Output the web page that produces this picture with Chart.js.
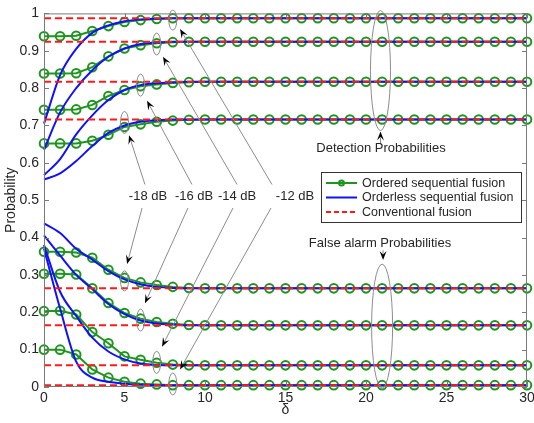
<!DOCTYPE html>
<html>
<head>
<meta charset="utf-8">
<script src="https://cdn.jsdelivr.net/npm/chart.js@4.4.0/dist/chart.umd.min.js"></script>
<style>
  html, body { margin: 0; padding: 0; background: #fff; }
  canvas { display: block; }
</style>
</head>
<body>
<canvas id="chart" width="534" height="423"></canvas>
<script>
// ---- data ----
const delta = [0,1,2,3,4,5,6,7,8,9,10,11,12,13,14,15,16,17,18,19,20,21,22,23,24,25,26,27,28,29,30];

// detection probabilities, ordered sequential fusion (green, circles)
const orderedD12 = [0.939,0.939,0.940,0.953,0.966,0.977,0.982,0.985,0.987,0.987,0.987,0.987,0.987,0.987,0.987,0.987,0.987,0.987,0.987,0.987,0.987,0.987,0.987,0.987,0.987,0.987,0.987,0.987,0.987,0.987,0.987];
const orderedD14 = [0.839,0.839,0.840,0.856,0.885,0.906,0.915,0.920,0.923,0.924,0.924,0.924,0.924,0.924,0.924,0.924,0.924,0.924,0.924,0.924,0.924,0.924,0.924,0.924,0.924,0.924,0.924,0.924,0.924,0.924,0.924];
const orderedD16 = [0.742,0.742,0.743,0.755,0.779,0.795,0.805,0.810,0.814,0.816,0.817,0.817,0.817,0.817,0.817,0.817,0.817,0.817,0.817,0.817,0.817,0.817,0.817,0.817,0.817,0.817,0.817,0.817,0.817,0.817,0.817];
const orderedD18 = [0.652,0.652,0.652,0.659,0.675,0.696,0.703,0.710,0.713,0.715,0.716,0.716,0.716,0.716,0.716,0.716,0.716,0.716,0.716,0.716,0.716,0.716,0.716,0.716,0.716,0.716,0.716,0.716,0.716,0.716,0.716];

// detection probabilities, orderless sequential fusion (blue)
const orderlessD12 = [0.705,0.835,0.905,0.948,0.968,0.979,0.984,0.986,0.987,0.987,0.987,0.987,0.987,0.987,0.987,0.987,0.987,0.987,0.987,0.987,0.987,0.987,0.987,0.987,0.987,0.987,0.987,0.987,0.987,0.987,0.987];
const orderlessD14 = [0.635,0.735,0.800,0.848,0.884,0.906,0.918,0.922,0.924,0.924,0.924,0.924,0.924,0.924,0.924,0.924,0.924,0.924,0.924,0.924,0.924,0.924,0.924,0.924,0.924,0.924,0.924,0.924,0.924,0.924,0.924];
const orderlessD16 = [0.567,0.610,0.676,0.727,0.768,0.795,0.808,0.813,0.816,0.817,0.817,0.817,0.817,0.817,0.817,0.817,0.817,0.817,0.817,0.817,0.817,0.817,0.817,0.817,0.817,0.817,0.817,0.817,0.817,0.817,0.817];
const orderlessD18 = [0.555,0.572,0.605,0.645,0.680,0.700,0.710,0.714,0.716,0.716,0.716,0.716,0.716,0.716,0.716,0.716,0.716,0.716,0.716,0.716,0.716,0.716,0.716,0.716,0.716,0.716,0.716,0.716,0.716,0.716,0.716];

// false alarm probabilities, ordered sequential fusion (green, circles)
const orderedF18 = [0.362,0.362,0.360,0.346,0.314,0.292,0.280,0.273,0.268,0.265,0.264,0.264,0.264,0.264,0.264,0.264,0.264,0.264,0.264,0.264,0.264,0.264,0.264,0.264,0.264,0.264,0.264,0.264,0.264,0.264,0.264];
const orderedF16 = [0.303,0.303,0.301,0.264,0.225,0.198,0.183,0.174,0.169,0.166,0.165,0.165,0.165,0.165,0.165,0.165,0.165,0.165,0.165,0.165,0.165,0.165,0.165,0.165,0.165,0.165,0.165,0.165,0.165,0.165,0.165];
const orderedF14 = [0.203,0.204,0.194,0.147,0.117,0.082,0.073,0.065,0.060,0.058,0.058,0.058,0.058,0.058,0.058,0.058,0.058,0.058,0.058,0.058,0.058,0.058,0.058,0.058,0.058,0.058,0.058,0.058,0.058,0.058,0.058];
const orderedF12 = [0.100,0.100,0.087,0.047,0.025,0.014,0.009,0.007,0.005,0.005,0.005,0.005,0.005,0.005,0.005,0.005,0.005,0.005,0.005,0.005,0.005,0.005,0.005,0.005,0.005,0.005,0.005,0.005,0.005,0.005,0.005];

// false alarm probabilities, orderless sequential fusion (blue)
const orderlessF18 = [0.438,0.412,0.370,0.341,0.310,0.288,0.275,0.268,0.265,0.264,0.264,0.264,0.264,0.264,0.264,0.264,0.264,0.264,0.264,0.264,0.264,0.264,0.264,0.264,0.264,0.264,0.264,0.264,0.264,0.264,0.264];
const orderlessF16 = [0.406,0.352,0.300,0.262,0.222,0.195,0.178,0.170,0.167,0.165,0.165,0.165,0.165,0.165,0.165,0.165,0.165,0.165,0.165,0.165,0.165,0.165,0.165,0.165,0.165,0.165,0.165,0.165,0.165,0.165,0.165];
const orderlessF14 = [0.380,0.255,0.190,0.132,0.095,0.074,0.063,0.059,0.058,0.058,0.058,0.058,0.058,0.058,0.058,0.058,0.058,0.058,0.058,0.058,0.058,0.058,0.058,0.058,0.058,0.058,0.058,0.058,0.058,0.058,0.058];
const orderlessF12 = [0.370,0.210,0.068,0.025,0.014,0.009,0.006,0.005,0.005,0.005,0.005,0.005,0.005,0.005,0.005,0.005,0.005,0.005,0.005,0.005,0.005,0.005,0.005,0.005,0.005,0.005,0.005,0.005,0.005,0.005,0.005];

// conventional fusion (red dashed), constant over delta
const conventionalLevels = [0.987, 0.924, 0.817, 0.716, 0.264, 0.165, 0.058, 0.005];
const deltaRange = [0, 30];

const legendLabels = ['Ordered sequential fusion', 'Orderless sequential fusion', 'Conventional fusion'];
const snrLabels = ['-18 dB', '-16 dB', '-14 dB', '-12 dB'];

// ---- styles ----
const GREEN = '#1e951e';
const BLUE = '#1010ff';
const RED = '#ff1a1a';
const FONT = "'Liberation Sans', Arial, sans-serif";
const TEXT = '#262626';

const pts = (xs, ys) => xs.map((x, i) => ({ x: x, y: ys[i] }));

const datasets = [];
conventionalLevels.forEach(v => {
  datasets.push({
    data: pts(deltaRange, [v, v]),
    borderColor: RED, borderWidth: 2, borderDash: [7, 4],
    pointRadius: 0, order: 0, clip: false
  });
});
[orderlessD12, orderlessD14, orderlessD16, orderlessD18,
 orderlessF18, orderlessF16, orderlessF14, orderlessF12].forEach(s => {
  datasets.push({
    data: pts(delta, s),
    borderColor: BLUE, borderWidth: 2,
    cubicInterpolationMode: 'monotone',
    pointRadius: 0, order: 1, clip: false
  });
});
[orderedD12, orderedD14, orderedD16, orderedD18,
 orderedF18, orderedF16, orderedF14, orderedF12].forEach(s => {
  datasets.push({
    data: pts(delta, s),
    borderColor: GREEN, borderWidth: 2, tension: 0,
    pointRadius: 4.3, pointBorderWidth: 2,
    pointBorderColor: GREEN, pointBackgroundColor: 'rgba(0,0,0,0)',
    order: 2, clip: false
  });
});

// annotation geometry, in data units (ellipse radii in px)
const ellipses = [
  [8.0, 0.982, 4, 10], [7.0, 0.918, 4, 11], [6.0, 0.808, 4, 11], [5.0, 0.708, 4, 11],
  [5.0, 0.284, 4, 10], [6.0, 0.179, 4, 11], [7.0, 0.066, 4, 11], [8.0, 0.008, 4, 11],
  [20.9, 0.847, 10, 60], [21.0, 0.163, 10.5, 62]
];
const arrows = [
  // [fromDelta, fromP, tipDelta, tipP]
  [6.27, 0.542, 5.28, 0.674], [9.19, 0.542, 6.40, 0.766],
  [11.99, 0.542, 7.39, 0.884], [14.16, 0.542, 8.45, 0.958],
  [6.09, 0.479, 5.16, 0.329], [8.94, 0.479, 6.27, 0.224],
  [11.74, 0.479, 7.33, 0.108], [14.10, 0.479, 8.45, 0.047],
  [20.9, 0.650, 20.9, 0.684], [21.06, 0.366, 21.06, 0.340]
];
const snrPos = [[6.46, 0.511], [9.32, 0.511], [11.99, 0.511], [15.59, 0.511]];
const groupText = [['Detection Probabilities', 20.93, 0.639], ['False alarm Probabilities', 20.87, 0.384]];

const framePlugin = {
  id: 'frame',
  afterDraw(chart) {
    const { ctx, chartArea: a, scales: { x, y } } = chart;
    ctx.save();
    ctx.strokeStyle = '#7a7a7a';
    ctx.lineWidth = 1;
    ctx.strokeRect(a.left + 0.5, a.top + 0.5, a.right - a.left - 1, a.bottom - a.top - 1);
    ctx.beginPath();
    x.ticks.forEach(t => {
      const px = Math.round(x.getPixelForValue(t.value)) + 0.5;
      ctx.moveTo(px, a.bottom); ctx.lineTo(px, a.bottom - 5);
      ctx.moveTo(px, a.top); ctx.lineTo(px, a.top + 5);
    });
    y.ticks.forEach(t => {
      const py = Math.round(y.getPixelForValue(t.value)) + 0.5;
      ctx.moveTo(a.left, py); ctx.lineTo(a.left + 5, py);
      ctx.moveTo(a.right, py); ctx.lineTo(a.right - 5, py);
    });
    ctx.stroke();
    ctx.restore();
  }
};

const annotPlugin = {
  id: 'annot',
  afterDatasetsDraw(chart) {
    const { ctx, scales: { x, y } } = chart;
    const X = v => x.getPixelForValue(v);
    const Y = v => y.getPixelForValue(v);
    ctx.save();
    ctx.strokeStyle = '#8c8c8c';
    ctx.lineWidth = 1;
    ellipses.forEach(e => {
      ctx.beginPath();
      ctx.ellipse(X(e[0]), Y(e[1]), e[2], e[3], 0, 0, Math.PI * 2);
      ctx.stroke();
    });
    arrows.forEach(a => {
      const x0 = X(a[0]), y0 = Y(a[1]), x1 = X(a[2]), y1 = Y(a[3]);
      const ang = Math.atan2(y1 - y0, x1 - x0);
      ctx.strokeStyle = '#8c8c8c';
      ctx.beginPath();
      ctx.moveTo(x0, y0); ctx.lineTo(x1 - 6 * Math.cos(ang), y1 - 6 * Math.sin(ang));
      ctx.stroke();
      // notched arrow head
      const L = 9, W = 3.5;
      const bx = x1 - L * Math.cos(ang), by = y1 - L * Math.sin(ang);
      const nx = x1 - 0.6 * L * Math.cos(ang), ny = y1 - 0.6 * L * Math.sin(ang);
      ctx.fillStyle = '#000';
      ctx.beginPath();
      ctx.moveTo(x1, y1);
      ctx.lineTo(bx - W * Math.sin(ang), by + W * Math.cos(ang));
      ctx.lineTo(nx, ny);
      ctx.lineTo(bx + W * Math.sin(ang), by - W * Math.cos(ang));
      ctx.closePath();
      ctx.fill();
    });
    ctx.fillStyle = TEXT;
    ctx.font = '13px ' + FONT;
    ctx.textAlign = 'center';
    ctx.textBaseline = 'middle';
    snrLabels.forEach((s, i) => ctx.fillText(s, X(snrPos[i][0]), Y(snrPos[i][1])));
    groupText.forEach(g => ctx.fillText(g[0], X(g[1]), Y(g[2])));
    ctx.restore();
  },
  afterDraw(chart) {
    // legend box inside the plot
    const { ctx, chartArea: a } = chart;
    const bx = a.right - 206, by = 172, bw = 200, bh = 50;
    ctx.save();
    ctx.fillStyle = '#fff';
    ctx.fillRect(bx, by, bw, bh);
    ctx.strokeStyle = '#333';
    ctx.lineWidth = 1;
    ctx.strokeRect(bx + 0.5, by + 0.5, bw, bh);
    const colors = [GREEN, BLUE, RED];
    colors.forEach((c, i) => {
      const ly = by + 11 + i * 14.5;
      ctx.strokeStyle = c;
      ctx.lineWidth = 2;
      ctx.setLineDash(i === 2 ? [5, 3] : []);
      ctx.beginPath();
      ctx.moveTo(bx + 5, ly); ctx.lineTo(bx + 36, ly);
      ctx.stroke();
      ctx.setLineDash([]);
      if (i === 0) {
        ctx.beginPath();
        ctx.arc(bx + 20.5, ly, 2.5, 0, Math.PI * 2);
        ctx.stroke();
      }
      ctx.fillStyle = TEXT;
      ctx.font = '12.5px ' + FONT;
      ctx.textAlign = 'left';
      ctx.textBaseline = 'middle';
      ctx.fillText(legendLabels[i], bx + 41, ly + 0.5);
    });
    ctx.restore();
  }
};

new Chart(document.getElementById('chart'), {
  type: 'line',
  data: { datasets: datasets },
  options: {
    responsive: false,
    animation: false,
    devicePixelRatio: 1,
    layout: { padding: { top: 7, right: 7, left: 0, bottom: 0 } },
    plugins: { legend: { display: false }, tooltip: { enabled: false } },
    scales: {
      x: {
        type: 'linear', min: 0, max: 30,
        grid: { display: false, drawTicks: false },
        border: { display: false },
        ticks: { stepSize: 5, padding: 3, color: TEXT, font: { size: 14, family: FONT }, maxRotation: 0 },
        title: { display: true, text: 'δ', color: TEXT, font: { size: 14, family: FONT }, padding: { top: 0, bottom: 4 } },
        afterFit: s => { s.height = 36; s.paddingLeft = 0; s.paddingRight = 0; }
      },
      y: {
        min: 0, max: 1,
        grid: { display: false, drawTicks: false },
        border: { display: false },
        ticks: { stepSize: 0.1, padding: 5, color: TEXT, font: { size: 14, family: FONT },
                 callback: v => String(+v.toFixed(1)) },
        title: { display: true, text: 'Probability', color: TEXT, font: { size: 14, family: FONT }, padding: { top: 3, bottom: 0 } },
        afterFit: s => { s.width = 44; }
      }
    }
  },
  plugins: [framePlugin, annotPlugin]
});
</script>
</body>
</html>
